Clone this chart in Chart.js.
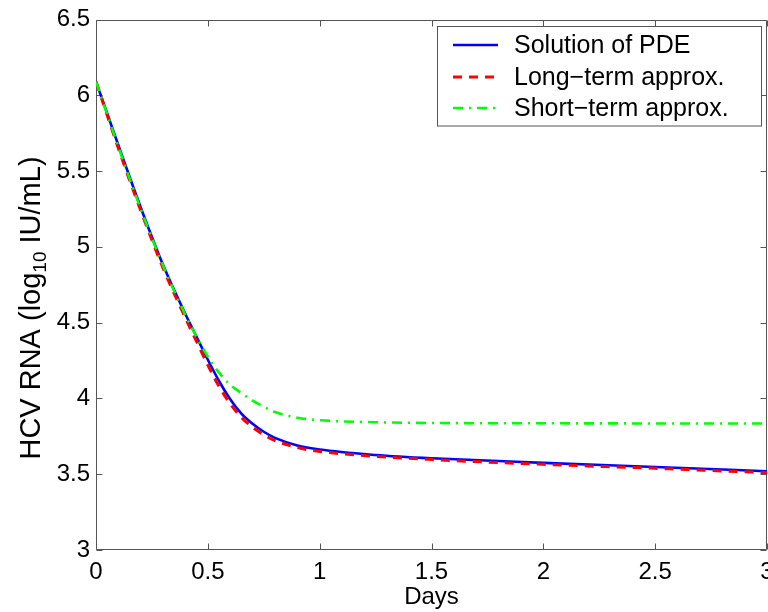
<!DOCTYPE html>
<html>
<head>
<meta charset="utf-8">
<script src="https://cdn.jsdelivr.net/npm/chart.js@4.4.0/dist/chart.umd.min.js"></script>
<style>
  html, body { margin: 0; padding: 0; background: #fff; }
  #wrap { position: relative; width: 768px; height: 612px; }
</style>
</head>
<body>
<div id="wrap"><canvas id="c"></canvas></div>
<script>
// Datos (días vs log10 IU/mL)
const days      = [0, 0.1, 0.2, 0.3, 0.4, 0.45, 0.5, 0.55, 0.6, 0.65, 0.7, 0.75, 0.8, 0.9, 1.0, 1.25, 1.5, 2.0, 2.5, 3.0]
const pdeSol    = [6.09, 5.67, 5.26, 4.88, 4.555, 4.405, 4.255, 4.115, 3.995, 3.90, 3.833, 3.78, 3.74, 3.69, 3.663, 3.627, 3.605, 3.575, 3.548, 3.52]
const longTerm  = [6.09, 5.65, 5.24, 4.86, 4.53, 4.375, 4.22, 4.08, 3.965, 3.875, 3.81, 3.76, 3.722, 3.676, 3.65, 3.618, 3.597, 3.565, 3.539, 3.51]
const shortTerm = [6.09, 5.66, 5.25, 4.875, 4.55, 4.405, 4.275, 4.17, 4.09, 4.035, 3.985, 3.945, 3.91, 3.873, 3.856, 3.843, 3.838, 3.836, 3.835, 3.835]
const seriesNames = ['Solution of PDE', 'Long\u2212term approx.', 'Short\u2212term approx.']
const xTicks = [0, 0.5, 1, 1.5, 2, 2.5, 3]
const yTicks = [3, 3.5, 4, 4.5, 5, 5.5, 6, 6.5]

const FONT = "'Liberation Sans', Arial, Helvetica, sans-serif"
const FRAME = '#555'

const pts = arr => days.map((d, i) => ({ x: d, y: arr[i] }))

// Marco estilo MATLAB: caja completa + ticks hacia dentro + título Y con subíndice + leyenda
const matlabBox = {
  id: 'matlabBox',
  beforeDatasetsDraw(chart) {
    const { ctx, chartArea: a, scales: { x, y } } = chart
    ctx.save()
    ctx.strokeStyle = FRAME
    ctx.lineWidth = 1
    ctx.beginPath()
    const L = Math.round(a.left) + 0.5, R = Math.round(a.right) - 0.5
    const T = Math.round(a.top) + 0.5, B = Math.round(a.bottom) - 0.5
    ctx.rect(L, T, R - L, B - T)
    const tl = 6
    xTicks.forEach(v => {
      const px = Math.round(x.getPixelForValue(v)) + 0.5
      ctx.moveTo(px, B); ctx.lineTo(px, B - tl)
      ctx.moveTo(px, T); ctx.lineTo(px, T + tl)
    })
    yTicks.forEach(v => {
      const py = Math.round(y.getPixelForValue(v)) + 0.5
      ctx.moveTo(L, py); ctx.lineTo(L + tl, py)
      ctx.moveTo(R, py); ctx.lineTo(R - tl, py)
    })
    ctx.stroke()
    ctx.restore()
  },
  afterDraw(chart) {
    const { ctx } = chart
    // Título eje Y: "HCV RNA (log10 IU/mL)" con subíndice
    ctx.save()
    ctx.translate(40, 308)
    ctx.rotate(-Math.PI / 2)
    ctx.fillStyle = '#000'
    ctx.textBaseline = 'alphabetic'
    const big = '29px ' + FONT, small = '19px ' + FONT
    const p1 = 'HCV RNA (log', p2 = '10', p3 = ' IU/mL)'
    ctx.font = big; const w1 = ctx.measureText(p1).width, w3 = ctx.measureText(p3).width
    ctx.font = small; const w2 = ctx.measureText(p2).width
    let sx = -(w1 + w2 + w3) / 2
    ctx.font = big; ctx.fillText(p1, sx, 0); sx += w1
    ctx.font = small; ctx.fillText(p2, sx, 6); sx += w2
    ctx.font = big; ctx.fillText(p3, sx, 0)
    ctx.restore()

    // Leyenda
    ctx.save()
    ctx.fillStyle = '#fff'
    ctx.strokeStyle = FRAME
    ctx.lineWidth = 1
    ctx.fillRect(437.5, 26.5, 324, 99.5)
    ctx.strokeRect(437.5, 26.5, 324, 99.5)
    const rows = [45, 77, 108]
    chart.data.datasets.forEach((ds, i) => {
      ctx.beginPath()
      ctx.strokeStyle = ds.borderColor
      ctx.lineWidth = ds.borderWidth
      ctx.setLineDash(ds.borderDash || [])
      ctx.moveTo(453, rows[i]); ctx.lineTo(498, rows[i])
      ctx.stroke()
      ctx.setLineDash([])
      ctx.fillStyle = '#000'
      ctx.font = '25px ' + FONT
      ctx.textBaseline = 'middle'
      ctx.fillText(ds.label, 514, rows[i] + 1)
    })
    ctx.restore()
  }
}

new Chart(document.getElementById('c'), {
  type: 'line',
  data: {
    datasets: [
      { label: seriesNames[0], data: pts(pdeSol), borderColor: '#0000ff', borderWidth: 2.6, order: 2 },
      { label: seriesNames[1], data: pts(longTerm), borderColor: '#ff0000', borderWidth: 3, borderDash: [9, 7], order: 1 },
      { label: seriesNames[2], data: pts(shortTerm), borderColor: '#00ff00', borderWidth: 2.6, borderDash: [10, 6, 2, 6], order: 0 }
    ]
  },
  options: {
    responsive: true,
    maintainAspectRatio: false,
    animation: false,
    layout: { padding: { top: 19.5, right: 1, bottom: 0, left: 0 } },
    elements: { point: { radius: 0 }, line: { cubicInterpolationMode: 'monotone', fill: false } },
    plugins: { legend: { display: false }, tooltip: { enabled: false } },
    scales: {
      x: {
        type: 'linear', min: 0, max: 3,
        afterBuildTicks: s => { s.ticks = xTicks.map(v => ({ value: v })) },
        ticks: { color: '#000', font: { size: 24, family: FONT }, padding: 8, maxRotation: 0, autoSkip: false, callback: v => String(v) },
        grid: { display: false, drawTicks: false },
        border: { display: false },
        title: { display: true, text: 'Days', color: '#000', font: { size: 24, family: FONT, lineHeight: 1.2 }, padding: { top: 0, bottom: 0 } },
        afterFit: s => { s.height = 62; s.paddingLeft = 0; s.paddingRight = 0 }
      },
      y: {
        type: 'linear', min: 3, max: 6.5,
        afterBuildTicks: s => { s.ticks = yTicks.map(v => ({ value: v })) },
        ticks: { color: '#000', font: { size: 24, family: FONT }, padding: 6, autoSkip: false, callback: v => String(v) },
        grid: { display: false, drawTicks: false },
        border: { display: false },
        afterFit: s => { s.width = 96; s.paddingTop = 0; s.paddingBottom = 0 }
      }
    }
  },
  plugins: [matlabBox]
})
</script>
</body>
</html>
